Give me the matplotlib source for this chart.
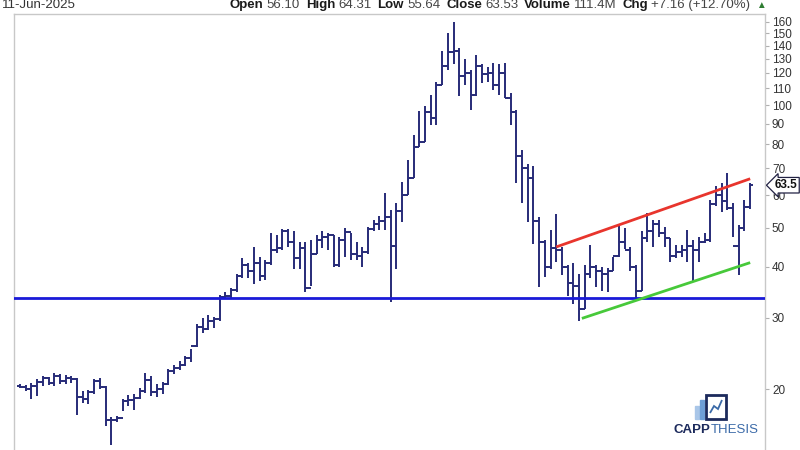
"""
Weekly OHLC bar chart with a rising channel and a support line (log scale).
"""

import numpy as np
import matplotlib
matplotlib.use("Agg")
from matplotlib import pyplot as plt
from matplotlib.patches import Rectangle, Polygon
from matplotlib.ticker import FixedLocator, NullLocator, FixedFormatter

plt.rcParams["font.family"] = ["Liberation Sans", "DejaVu Sans"]

# Weekly bars, oldest first
OPENS = [
    20.4, 20.3, 20.1, 20.4, 20.9, 21.4, 20.8, 21.6, 21.0, 21.3,
    21.2, 19.2, 19.0, 19.7, 21.0, 20.3, 16.8, 16.8, 17.0, 18.7,
    18.8, 19.1, 19.8, 21.1, 19.7, 20.0, 20.6, 22.2, 22.6, 23.0,
    23.9, 25.6, 28.5, 28.2, 29.5, 29.8, 33.8, 34.0, 35.2, 38.0,
    40.5, 39.0, 41.0, 38.0, 40.8, 44.0, 44.5, 49.0, 46.0, 42.0,
    44.5, 35.5, 43.0, 46.5, 47.5, 47.8, 40.5, 46.5, 48.8, 43.0,
    42.5, 43.5, 49.5, 51.0, 52.0, 53.0, 45.0, 55.0, 60.0, 66.0,
    79.0, 81.0, 96.0, 93.0, 112.0, 125.0, 135.0, 136.0, 118.0, 120.0,
    106.0, 125.0, 119.0, 120.0, 112.0, 120.0, 104.0, 96.0, 75.0, 70.0,
    66.0, 52.0, 46.0, 40.0, 44.5, 44.0, 40.0, 36.5, 36.0, 31.5,
    38.5, 40.0, 39.0, 38.5, 39.0, 42.5, 46.0, 44.0, 40.0, 35.0,
    47.0, 49.0, 51.0, 48.5, 47.0, 42.5, 43.5, 44.0, 45.0, 44.0,
    46.0, 46.5, 57.0, 60.0, 58.0, 56.0, 45.0, 50.0, 56.10,
]
HIGHS = [
    20.6, 20.5, 20.7, 21.2, 21.6, 21.5, 22.0, 21.8, 21.7, 21.6,
    21.3, 19.8, 19.9, 21.2, 21.3, 20.4, 17.1, 17.2, 19.0, 19.4,
    19.5, 20.2, 22.0, 21.6, 20.6, 20.9, 22.4, 23.0, 23.5, 24.2,
    25.2, 28.9, 30.0, 30.5, 30.2, 34.2, 34.8, 35.5, 38.5, 42.0,
    40.8, 44.9, 42.4, 41.5, 48.6, 48.0, 49.7, 49.5, 48.9, 46.2,
    46.2, 46.7, 48.0, 48.9, 48.5, 48.0, 47.5, 49.9, 48.5, 46.2,
    44.7, 50.2, 52.3, 53.5, 60.9, 55.3, 57.3, 64.6, 73.3, 84.4,
    96.9, 99.6, 106.0, 114.0, 136.0, 150.0, 160.0, 138.0, 130.0, 122.0,
    133.0, 126.0, 124.0, 127.0, 126.0, 127.0, 107.0, 97.2, 77.6, 71.5,
    70.8, 53.0, 46.7, 49.4, 53.9, 44.7, 40.4, 41.0, 38.5, 40.4,
    45.4, 40.4, 40.1, 39.8, 42.4, 50.7, 49.9, 44.9, 40.4, 48.9,
    54.4, 52.3, 52.3, 50.2, 47.2, 45.4, 45.4, 49.4, 46.7, 47.5,
    48.6, 58.5, 63.3, 64.3, 68.2, 57.3, 50.7, 58.5, 64.31,
]
LOWS = [
    20.2, 19.8, 19.0, 19.3, 20.4, 20.5, 20.4, 20.6, 20.6, 20.8,
    17.3, 18.5, 18.4, 19.5, 20.0, 16.3, 14.6, 16.6, 17.7, 18.2,
    17.8, 19.0, 19.6, 19.3, 19.2, 19.5, 20.5, 21.8, 22.3, 22.8,
    23.4, 25.5, 27.5, 28.0, 28.3, 29.5, 33.3, 33.5, 34.8, 37.5,
    37.6, 36.3, 37.0, 37.2, 40.5, 43.4, 44.0, 44.9, 39.5, 39.5,
    34.7, 35.9, 43.0, 44.5, 44.0, 40.1, 40.1, 42.4, 41.7, 41.7,
    40.1, 43.0, 49.0, 49.4, 49.4, 32.9, 39.5, 51.5, 60.0, 66.0,
    79.0, 81.1, 89.4, 89.4, 112.0, 122.0, 126.0, 105.0, 112.0, 97.0,
    105.0, 113.0, 114.0, 109.0, 106.0, 104.0, 89.4, 64.3, 57.5, 51.6,
    45.6, 35.8, 37.9, 39.5, 41.1, 38.3, 33.9, 32.4, 29.5, 31.5,
    37.6, 35.8, 34.9, 34.7, 39.0, 42.4, 44.2, 39.0, 33.6, 34.9,
    46.2, 44.9, 47.5, 44.9, 41.1, 42.1, 42.4, 41.1, 36.9, 41.1,
    45.9, 46.2, 56.5, 54.7, 55.3, 47.5, 38.3, 48.9, 55.64,
]
CLOSES = OPENS[1:] + [63.53]

# Drawn trend lines: (bar index, price) end points
SUPPORT_LEVEL = 33.5
UPPER_CHANNEL = ([94, 128], [44.8, 65.9])
LOWER_CHANNEL = ([98.5, 128], [29.9, 41.0])

Y_TICKS = [20, 30, 40, 50, 60, 70, 80, 90, 100, 110, 120, 130, 140, 150, 160]
LAST_LABEL = "63.5"

HEADER_DATE = "11-Jun-2025"
HEADER_FIELDS = [
    ("Open", "56.10"), ("High", "64.31"), ("Low", "55.64"), ("Close", "63.53"),
    ("Volume", "111.4M"), ("Chg", "+7.16 (+12.70%)"),
]

BAR_COLOR = "#272b78"

fig = plt.figure(figsize=(8, 4.5), dpi=100)
ax = fig.add_axes([14 / 800, 0.0, 751 / 800, 1 - 14 / 450])

x = np.arange(len(OPENS))
ax.vlines(x, LOWS, HIGHS, color=BAR_COLOR, lw=1.4)
ax.hlines(OPENS, x - 0.55, x, color=BAR_COLOR, lw=1.4)
ax.hlines(CLOSES, x, x + 0.55, color=BAR_COLOR, lw=1.4)

ax.axhline(SUPPORT_LEVEL, color="#1a1ad8", lw=2.0, zorder=3)
ax.plot(*UPPER_CHANNEL, color="#e8352d", lw=2.0, zorder=3, solid_capstyle="butt")
ax.plot(*LOWER_CHANNEL, color="#47c93a", lw=2.0, zorder=3, solid_capstyle="butt")

ax.set_yscale("log")
ax.set_ylim(14.2, 167.4)
ax.set_xlim(-1.05, 130.6)

ax.yaxis.tick_right()
ax.yaxis.set_major_locator(FixedLocator(Y_TICKS))
ax.yaxis.set_major_formatter(FixedFormatter([str(t) for t in Y_TICKS]))
ax.yaxis.set_minor_locator(NullLocator())
ax.tick_params(axis="y", length=3, width=0.8, color="#b0b0b0", pad=2,
               labelsize=8.5, labelcolor="#333333")
ax.set_xticks([])
for side in ("left", "right", "top"):
    ax.spines[side].set_color("#c8c8c8")
    ax.spines[side].set_linewidth(1.0)
ax.spines["bottom"].set_visible(False)

# last price flag on the right axis
ax.annotate(LAST_LABEL, xy=(1.0, CLOSES[-1]), xycoords=("axes fraction", "data"),
            xytext=(7, 0), textcoords="offset points", va="center", ha="left",
            fontsize=8.5, fontweight="bold", color="#111111", annotation_clip=False,
            bbox=dict(boxstyle="larrow,pad=0.15", fc="white", ec="#222244", lw=0.9))

# header line
fig.canvas.draw()
renderer = fig.canvas.get_renderer()
HEADER_Y = 1 - 5 / 450
fig.text(2 / 800, HEADER_Y, HEADER_DATE, fontsize=9.5, color="#333333",
         va="center", ha="left")
cursor = 230
for label, value in HEADER_FIELDS:
    for txt, weight, col in ((label, "bold", "#1a1a1a"), (value, "normal", "#444444")):
        t = fig.text(cursor / 800, HEADER_Y, txt, fontsize=9.5, fontweight=weight,
                     color=col, va="center", ha="left")
        cursor = t.get_window_extent(renderer).x1 + 3
    cursor += 3
fig.text(cursor / 800, HEADER_Y, "\u25b2", fontsize=7, color="#2e7d32",
         va="center", ha="left")

# watermark logo
logo_y = 1 - 430 / 450
t = fig.text(674 / 800, logo_y, "CAPP", fontsize=9.5, fontweight="bold",
             color="#1c2a5c", ha="left", va="center")
fig.text(t.get_window_extent(renderer).x1 / 800, logo_y, "THESIS", fontsize=9.5,
         color="#3b6aa8", ha="left", va="center")
for bx, bh, col in ((695, 13, "#a9c6e8"), (700, 19, "#6f9fd6")):
    fig.patches.append(Rectangle((bx / 800, (450 - 419) / 450), 4 / 800, bh / 450,
                                 transform=fig.transFigure, color=col))
fig.patches.append(Rectangle((706 / 800, (450 - 419) / 450), 20 / 800, 24 / 450,
                             transform=fig.transFigure, fill=False, ec="#1c2a5c", lw=2))
fig.patches.append(Polygon([(710 / 800, (450 - 413) / 450), (714 / 800, (450 - 406) / 450),
                            (718 / 800, (450 - 409) / 450), (722 / 800, (450 - 400) / 450)],
                           closed=False, fill=False, ec="#3b6aa8", lw=1.3,
                           transform=fig.transFigure))

plt.savefig("out.png", dpi=100)
